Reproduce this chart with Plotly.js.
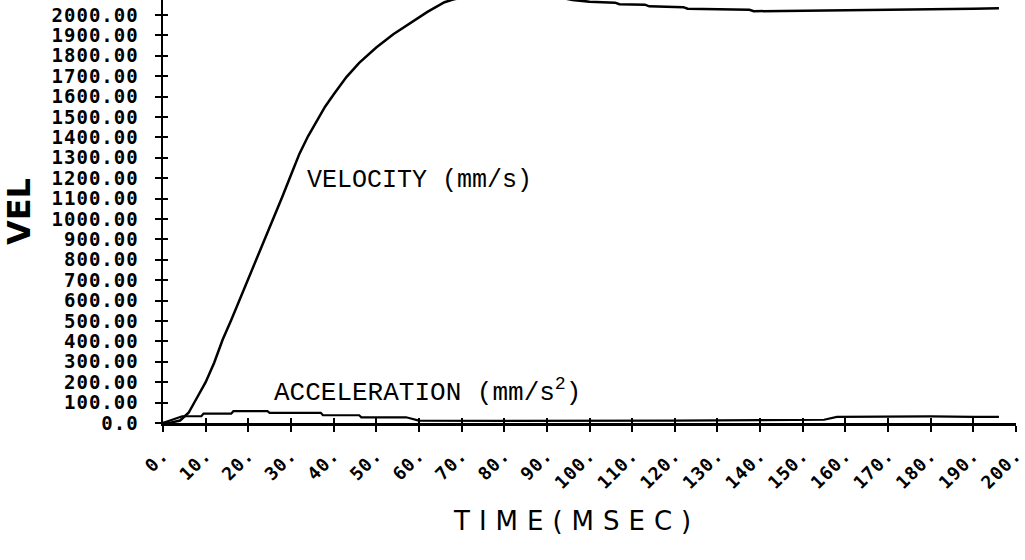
<!DOCTYPE html>
<html>
<head>
<meta charset="utf-8">
<script src="https://cdn.plot.ly/plotly-3.0.1.min.js"></script>
<style>
  html, body { margin: 0; padding: 0; background: #fff; }
  #chart { width: 1025px; height: 560px; }
  .ytick text { letter-spacing: 1px; }
  .xtick text { letter-spacing: 1px; }
  .annotation[data-index="2"] text { letter-spacing: 9px; }
</style>
</head>
<body>
<div id="chart"></div>
<script>
// ---- data ----
const velTime = [0, 2, 4, 6, 8, 10, 12, 14, 16, 18, 20, 22, 24, 26, 28, 30, 32, 34, 36, 38, 40, 43, 46, 50, 54, 58, 62, 66, 68, 72, 76, 80, 85, 90, 96, 100, 106, 107, 113, 114, 122, 123, 137.5, 138.5, 150, 160, 170, 180, 190, 196];
const velocity = [0, 3, 12, 50, 125, 200, 295, 409, 505, 605, 705, 805, 905, 1005, 1110, 1215, 1320, 1405, 1480, 1550, 1610, 1695, 1765, 1840, 1905, 1960, 2015, 2062, 2075, 2095, 2105, 2108, 2106, 2098, 2073, 2065, 2060, 2052, 2050, 2042, 2038, 2030, 2025, 2018, 2020, 2022, 2025, 2028, 2030, 2032];

const accTime = [0, 2, 4.5, 9, 9.5, 16, 16.5, 24.5, 25, 37, 37.5, 46, 46.5, 57, 60, 80, 100, 120, 140, 155, 158, 170, 180, 190, 196];
const acceleration = [0, 15, 33, 33, 46, 46, 58, 58, 50, 50, 38, 38, 28, 28, 12, 10, 10, 12, 14, 16, 30, 32, 32, 30, 30];

const yTickVals = [0, 100, 200, 300, 400, 500, 600, 700, 800, 900, 1000, 1100, 1200, 1300, 1400, 1500, 1600, 1700, 1800, 1900, 2000];
const yTickText = ["0.0", "100.00", "200.00", "300.00", "400.00", "500.00", "600.00", "700.00", "800.00", "900.00", "1000.00", "1100.00", "1200.00", "1300.00", "1400.00", "1500.00", "1600.00", "1700.00", "1800.00", "1900.00", "2000.00"];
const xTickVals = [0, 10, 20, 30, 40, 50, 60, 70, 80, 90, 100, 110, 120, 130, 140, 150, 160, 170, 180, 190, 200];
const xTickText = ["0.", "10.", "20.", "30.", "40.", "50.", "60.", "70.", "80.", "90.", "100.", "110.", "120.", "130.", "140.", "150.", "160.", "170.", "180.", "190.", "200."];

const xRange = [0, 200];
const yRange = [0, 2073];

const traces = [
  { x: velTime, y: velocity, type: "scatter", mode: "lines", name: "VELOCITY (mm/s)",
    line: { color: "#000", width: 2.5 }, xaxis: "x", yaxis: "y", hoverinfo: "x+y" },
  { x: accTime, y: acceleration, type: "scatter", mode: "lines", name: "ACCELERATION (mm/s²)",
    line: { color: "#000", width: 2.2 }, xaxis: "x2", yaxis: "y2", hoverinfo: "x+y" }
];

const layout = {
  width: 1025, height: 560,
  margin: { l: 163, r: 9, t: 0, b: 137 },
  paper_bgcolor: "#fff", plot_bgcolor: "#fff",
  showlegend: false,
  xaxis: {
    range: xRange, tickmode: "array", tickvals: xTickVals, ticktext: xTickText,
    tickangle: -45, ticks: "outside", ticklen: 6, tickwidth: 2, tickcolor: "#000",
    showline: true, linewidth: 2.5, linecolor: "#000", showgrid: false, zeroline: false,
    tickfont: { family: "DejaVu Sans Mono", size: 18, color: "#000", weight: "bold" },
    ticklabelstandoff: 6, ticklabeloverflow: "allow",
    automargin: false
  },
  yaxis: {
    range: yRange, tickmode: "array", tickvals: yTickVals, ticktext: yTickText,
    ticks: "outside", ticklen: 6, tickwidth: 2, tickcolor: "#000",
    showline: true, linewidth: 2.5, linecolor: "#000", showgrid: false, zeroline: false,
    tickfont: { family: "DejaVu Sans Mono", size: 19, color: "#000", weight: "bold" },
    ticklabelstandoff: 12, ticklabeloverflow: "allow",
    title: { text: "VEL", font: { family: "DejaVu Sans", size: 32, color: "#000", weight: "bold" }, standoff: 12 },
    automargin: false
  },
  xaxis2: {
    overlaying: "x", anchor: "y2", range: xRange, tickmode: "array", tickvals: xTickVals,
    ticks: "inside", ticklen: 5, tickwidth: 2, tickcolor: "#000",
    showticklabels: false, showline: false, showgrid: false, zeroline: false
  },
  yaxis2: {
    overlaying: "y", anchor: "x2", side: "left", range: yRange, tickmode: "array", tickvals: yTickVals,
    ticks: "inside", ticklen: 5, tickwidth: 2, tickcolor: "#000",
    showticklabels: false, showline: false, showgrid: false, zeroline: false
  },
  annotations: [
    { text: "VELOCITY (mm/s)", x: 33.4, y: 1190, xref: "x", yref: "y", xanchor: "left", yanchor: "middle",
      showarrow: false, font: { family: "Liberation Mono", size: 25, color: "#000" } },
    { text: "ACCELERATION (mm/s<sup>2</sup>)", x: 25.6, y: 62, xref: "x", yref: "y", xanchor: "left", yanchor: "bottom",
      showarrow: false, font: { family: "Liberation Mono", size: 26, color: "#000" } },
    { text: "TIME(MSEC)", x: 0.485, y: -0.232, xref: "paper", yref: "paper", xanchor: "center", yanchor: "middle",
      showarrow: false, font: { family: "DejaVu Sans", size: 26, color: "#000" } }
  ]
};

Plotly.newPlot("chart", traces, layout, { staticPlot: true, displayModeBar: false });
</script>
</body>
</html>
